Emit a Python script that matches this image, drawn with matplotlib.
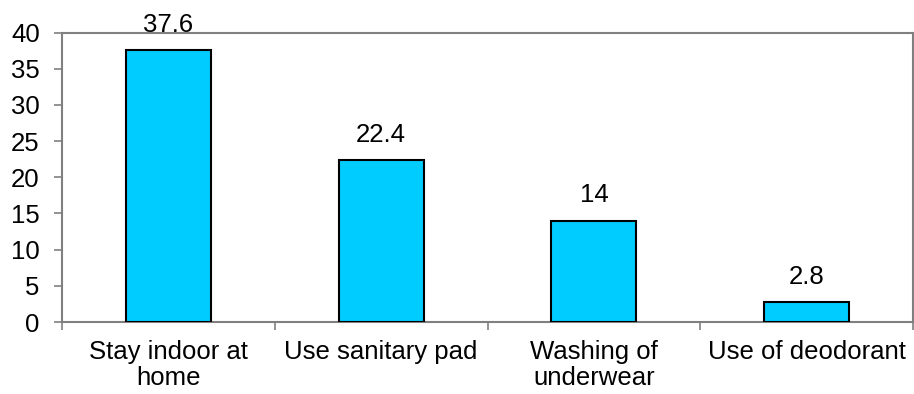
import matplotlib.pyplot as plt
import numpy as np

# data
categories = ['Stay indoor at\nhome', 'Use sanitary pad', 'Washing of\nunderwear', 'Use of deodorant']
values = [37.6, 22.4, 14, 2.8]
value_labels = ['37.6', '22.4', '14', '2.8']
yticks = [0, 5, 10, 15, 20, 25, 30, 35, 40]

plt.rcParams['font.family'] = ['Liberation Sans', 'DejaVu Sans']
fs = 18.5

fig = plt.figure(figsize=(9.14, 3.94), dpi=100)
ax = fig.add_axes([0.0678, 0.1827, 0.9312, 0.7348])

x = np.arange(len(categories))
bars = ax.bar(x, values, width=0.4, color='#00CCFF', edgecolor='black', linewidth=1.5, zorder=3)

for b, lab in zip(bars, value_labels):
    ax.annotate(lab, (b.get_x() + b.get_width() / 2, b.get_height()),
                xytext=(0, 9.5), textcoords='offset points',
                ha='center', va='bottom', fontsize=fs, zorder=1)

ax.set_xlim(-0.5, len(categories) - 0.5)
ax.set_ylim(0, 40)
ax.set_yticks(yticks)
ax.set_yticklabels([str(t) for t in yticks], fontsize=fs)

# ticks between categories, labels at centres
ax.set_xticks(np.arange(len(categories) + 1) - 0.5)
ax.set_xticklabels([])
ax.set_xticks(x, minor=True)
ax.set_xticklabels(categories, minor=True, fontsize=fs, linespacing=1.1)
ax.tick_params(axis='x', which='minor', length=0, pad=13)
ax.tick_params(axis='x', which='major', direction='out', length=6, width=1.2, color='#808080')
ax.tick_params(axis='y', direction='out', length=6, width=1.2, color='#808080', pad=10)

for s in ax.spines.values():
    s.set_color('#808080')
    s.set_linewidth(1.5)

fig.savefig('out.png', dpi=100)
